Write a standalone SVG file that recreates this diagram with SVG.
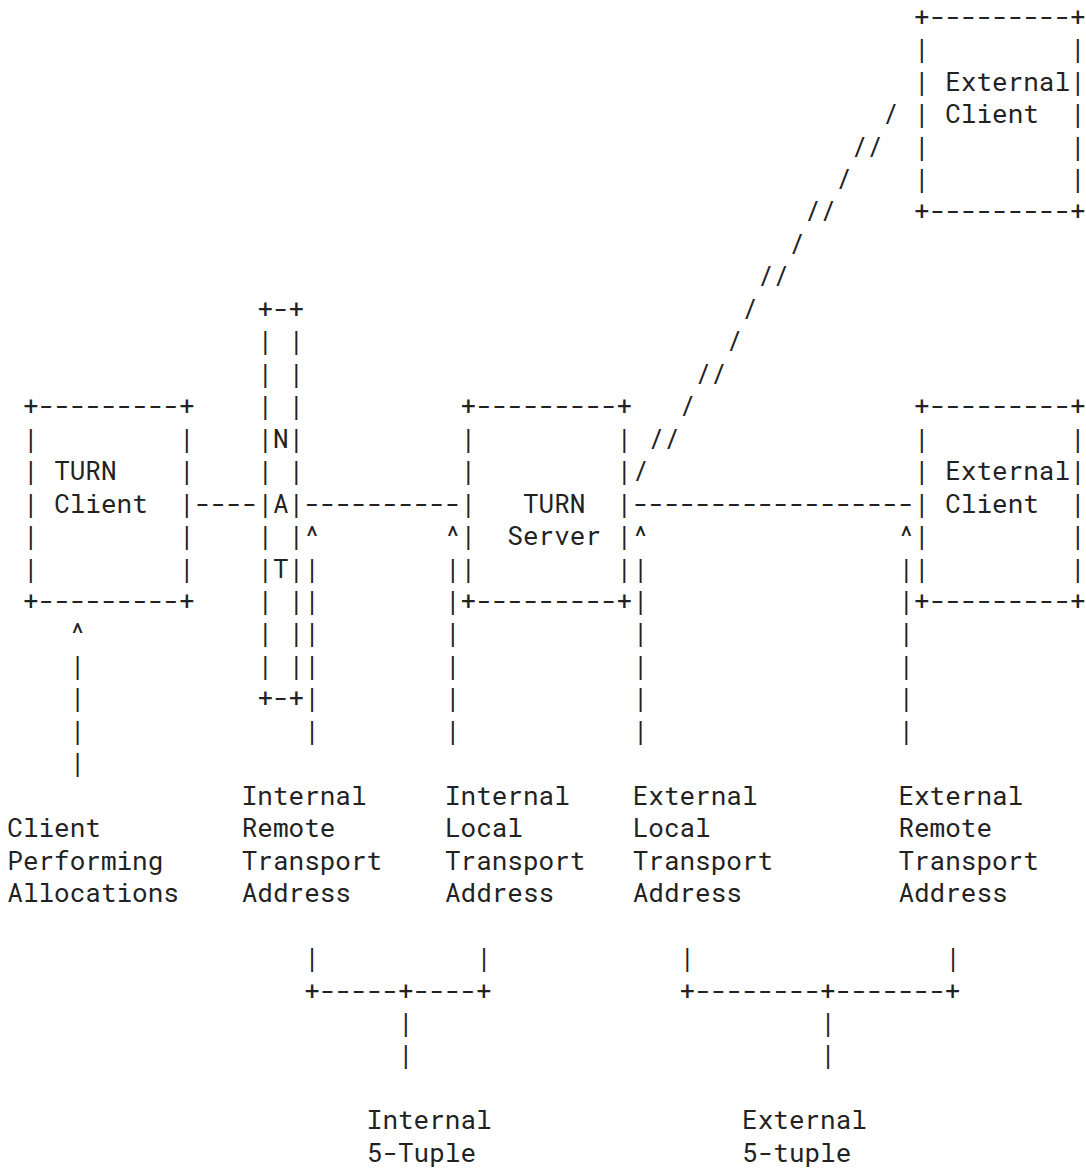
<svg xmlns="http://www.w3.org/2000/svg" width="1086" height="1168" viewBox="0 0 1086 1168" xml:space="preserve">
<style>
text { font-family: "Roboto Mono", "DejaVu Sans Mono", monospace; font-size: 26px; fill: #222; white-space: pre; }
</style>
<rect width="1086" height="1168" fill="#ffffff"/>
<g id="turn-client">
<text x="22.93" y="415.22">+---------+</text>
<text x="22.93" y="447.68">|         |</text>
<text x="22.93" y="480.14">| TURN    |</text>
<text x="22.93" y="512.6">| Client  |</text>
<text x="22.93" y="545.06">|         |</text>
<text x="22.93" y="577.52">|         |</text>
<text x="22.93" y="609.98">+---------+</text>
</g>
<g id="nat">
<text x="257.38" y="317.84">+-+</text>
<text x="257.38" y="350.3">| |</text>
<text x="257.38" y="382.76">| |</text>
<text x="257.38" y="415.22">| |</text>
<text x="257.38" y="447.68">|N|</text>
<text x="257.38" y="480.14">| |</text>
<text x="257.38" y="512.6">|A|</text>
<text x="257.38" y="545.06">| |</text>
<text x="257.38" y="577.52">|T|</text>
<text x="257.38" y="609.98">| |</text>
<text x="257.38" y="642.44">| |</text>
<text x="257.38" y="674.9">| |</text>
<text x="257.38" y="707.36">+-+</text>
</g>
<g id="turn-server">
<text x="460.57" y="415.22">+---------+</text>
<text x="460.57" y="447.68">|         |</text>
<text x="460.57" y="480.14">|         |</text>
<text x="460.57" y="512.6">|   TURN  |</text>
<text x="460.57" y="545.06">|  Server |</text>
<text x="460.57" y="577.52">|         |</text>
<text x="460.57" y="609.98">+---------+</text>
</g>
<g id="external-client-top">
<text x="914.04" y="25.7">+---------+</text>
<text x="914.04" y="58.16">|         |</text>
<text x="914.04" y="90.62">| External|</text>
<text x="914.04" y="123.08">| Client  |</text>
<text x="914.04" y="155.54">|         |</text>
<text x="914.04" y="188.0">|         |</text>
<text x="914.04" y="220.46">+---------+</text>
</g>
<g id="external-client-right">
<text x="914.04" y="415.22">+---------+</text>
<text x="914.04" y="447.68">|         |</text>
<text x="914.04" y="480.14">| External|</text>
<text x="914.04" y="512.6">| Client  |</text>
<text x="914.04" y="545.06">|         |</text>
<text x="914.04" y="577.52">|         |</text>
<text x="914.04" y="609.98">+---------+</text>
</g>
<g id="connectors">
<text x="194.86" y="512.6">----</text>
<text x="304.27" y="512.6">----------</text>
<text x="632.7" y="512.6">------------------</text>
<text x="882.78" y="123.08">/</text>
<text x="851.52" y="155.54">//</text>
<text x="835.89" y="188.0">/</text>
<text x="804.63" y="220.46">//</text>
<text x="789.0" y="252.92">/</text>
<text x="757.74" y="285.38">//</text>
<text x="742.11" y="317.84">/</text>
<text x="726.48" y="350.3">/</text>
<text x="695.22" y="382.76">//</text>
<text x="679.59" y="415.22">/</text>
<text x="648.33" y="447.68">//</text>
<text x="632.7" y="480.14">/</text>
<text x="69.82" y="642.44">^</text>
<text x="69.82" y="674.9">|</text>
<text x="69.82" y="707.36">|</text>
<text x="69.82" y="739.82">|</text>
<text x="69.82" y="772.28">|</text>
<text x="304.27" y="545.06">^</text>
<text x="304.27" y="577.52">|</text>
<text x="304.27" y="609.98">|</text>
<text x="304.27" y="642.44">|</text>
<text x="304.27" y="674.9">|</text>
<text x="304.27" y="707.36">|</text>
<text x="304.27" y="739.82">|</text>
<text x="444.94" y="545.06">^</text>
<text x="444.94" y="577.52">|</text>
<text x="444.94" y="609.98">|</text>
<text x="444.94" y="642.44">|</text>
<text x="444.94" y="674.9">|</text>
<text x="444.94" y="707.36">|</text>
<text x="444.94" y="739.82">|</text>
<text x="632.7" y="545.06">^</text>
<text x="632.7" y="577.52">|</text>
<text x="632.7" y="609.98">|</text>
<text x="632.7" y="642.44">|</text>
<text x="632.7" y="674.9">|</text>
<text x="632.7" y="707.36">|</text>
<text x="632.7" y="739.82">|</text>
<text x="898.41" y="545.06">^</text>
<text x="898.41" y="577.52">|</text>
<text x="898.41" y="609.98">|</text>
<text x="898.41" y="642.44">|</text>
<text x="898.41" y="674.9">|</text>
<text x="898.41" y="707.36">|</text>
<text x="898.41" y="739.82">|</text>
<text x="304.27" y="967.04">|</text>
<text x="476.2" y="967.04">|</text>
<text x="304.27" y="999.5">+-----+----+</text>
<text x="398.05" y="1031.96">|</text>
<text x="398.05" y="1064.42">|</text>
<text x="679.59" y="967.04">|</text>
<text x="945.3" y="967.04">|</text>
<text x="679.59" y="999.5">+--------+-------+</text>
<text x="820.26" y="1031.96">|</text>
<text x="820.26" y="1064.42">|</text>
</g>
<g id="label-client">
<text x="7.3" y="837.2">Client</text>
<text x="7.3" y="869.66">Performing</text>
<text x="7.3" y="902.12">Allocations</text>
</g>
<g id="label-internal-remote">
<text x="241.75" y="804.74">Internal</text>
<text x="241.75" y="837.2">Remote</text>
<text x="241.75" y="869.66">Transport</text>
<text x="241.75" y="902.12">Address</text>
</g>
<g id="label-internal-local">
<text x="444.94" y="804.74">Internal</text>
<text x="444.94" y="837.2">Local</text>
<text x="444.94" y="869.66">Transport</text>
<text x="444.94" y="902.12">Address</text>
</g>
<g id="label-external-local">
<text x="632.7" y="804.74">External</text>
<text x="632.7" y="837.2">Local</text>
<text x="632.7" y="869.66">Transport</text>
<text x="632.7" y="902.12">Address</text>
</g>
<g id="label-external-remote">
<text x="898.41" y="804.74">External</text>
<text x="898.41" y="837.2">Remote</text>
<text x="898.41" y="869.66">Transport</text>
<text x="898.41" y="902.12">Address</text>
</g>
<g id="label-internal-5-tuple">
<text x="366.79" y="1129.34">Internal</text>
<text x="366.79" y="1161.8">5-Tuple</text>
</g>
<g id="label-external-5-tuple">
<text x="742.11" y="1129.34">External</text>
<text x="742.11" y="1161.8">5-tuple</text>
</g>
</svg>
